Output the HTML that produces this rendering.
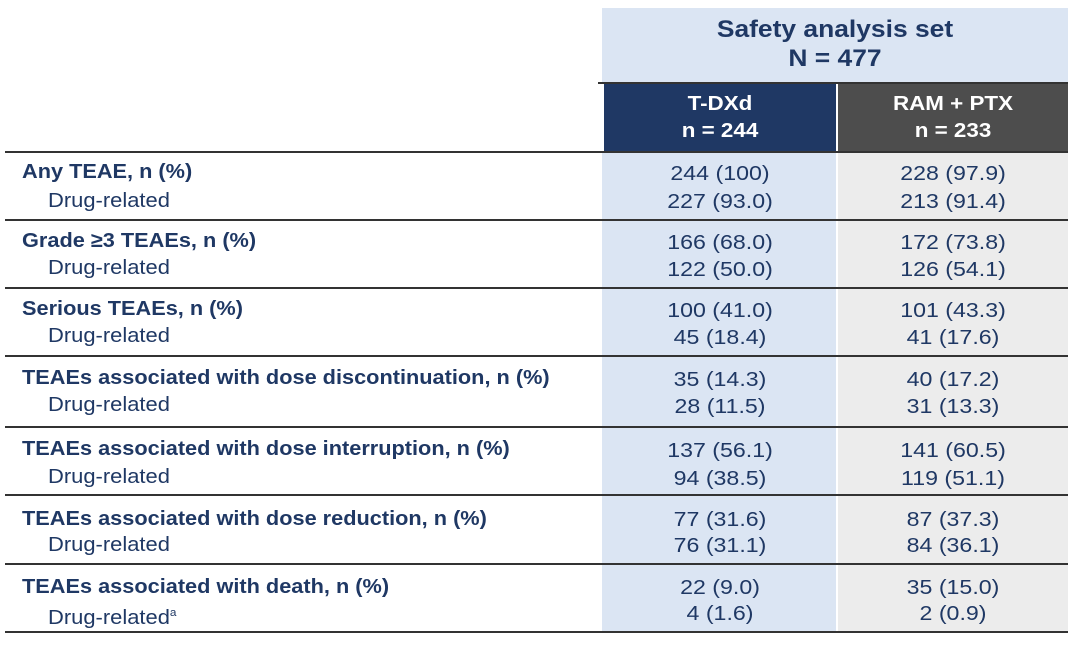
<!DOCTYPE html>
<html><head><meta charset="utf-8"><style>
body{margin:0;width:1080px;height:646px;background:#fff;position:relative;overflow:hidden;font-family:"Liberation Sans",Arial,sans-serif;color:#1f3864}
div{position:absolute}
.hl{height:2px;background:#333;left:5px;width:1063px}
.t{font-size:20.5px;line-height:24px;white-space:nowrap}
.b{font-weight:bold;left:22px;transform:scaleX(1.06);transform-origin:left}
.i{left:48px;transform:scaleX(1.07);transform-origin:left}
.c1{left:604px;width:232px;text-align:center;transform:scaleX(1.13)}
.c2{left:838px;width:230px;text-align:center;transform:scaleX(1.13)}
</style></head><body>
<div style="left:602px;top:8px;width:466px;height:76px;background:#dbe5f3"></div>
<div style="left:602px;top:152px;width:234px;height:481px;background:#dbe5f3"></div>
<div style="left:838px;top:152px;width:230px;height:481px;background:#ececec"></div>
<div style="left:602px;top:15px;width:466px;text-align:center;font-weight:bold;font-size:24px;line-height:29px;transform:scaleX(1.1)">Safety analysis set<br>N = 477</div>
<div style="left:598px;top:82px;width:470px;height:2px;background:#333"></div>
<div style="left:604px;top:84px;width:232px;height:68px;background:#1f3864"></div>
<div style="left:838px;top:84px;width:230px;height:68px;background:#4d4d4d"></div>
<div style="left:604px;top:91px;width:232px;color:#fff;font-weight:bold;font-size:20px;line-height:27px;text-align:center;transform:scaleX(1.12)">T-DXd<br>n = 244</div>
<div style="left:838px;top:91px;width:230px;color:#fff;font-weight:bold;font-size:20px;line-height:27px;text-align:center;transform:scaleX(1.12)">RAM + PTX<br>n = 233</div>
<div class="hl" style="top:151px"></div>
<div class="hl" style="top:219px"></div>
<div class="hl" style="top:287px"></div>
<div class="hl" style="top:355px"></div>
<div class="hl" style="top:426px"></div>
<div class="hl" style="top:494px"></div>
<div class="hl" style="top:563px"></div>
<div class="hl" style="top:631px"></div>

<div class="t b" style="top:160px">Any TEAE, n (%)</div>
<div class="t i" style="top:189px">Drug-related</div>
<div class="t c1" style="top:160px;line-height:28px">244 (100)<br>227 (93.0)</div>
<div class="t c2" style="top:160px;line-height:28px">228 (97.9)<br>213 (91.4)</div>

<div class="t b" style="top:229px">Grade ≥3 TEAEs, n (%)</div>
<div class="t i" style="top:256px">Drug-related</div>
<div class="t c1" style="top:229px;line-height:27px">166 (68.0)<br>122 (50.0)</div>
<div class="t c2" style="top:229px;line-height:27px">172 (73.8)<br>126 (54.1)</div>

<div class="t b" style="top:297px">Serious TEAEs, n (%)</div>
<div class="t i" style="top:324px">Drug-related</div>
<div class="t c1" style="top:297px;line-height:27px">100 (41.0)<br>45 (18.4)</div>
<div class="t c2" style="top:297px;line-height:27px">101 (43.3)<br>41 (17.6)</div>

<div class="t b" style="top:366px">TEAEs associated with dose discontinuation, n (%)</div>
<div class="t i" style="top:393px">Drug-related</div>
<div class="t c1" style="top:366px;line-height:27px">35 (14.3)<br>28 (11.5)</div>
<div class="t c2" style="top:366px;line-height:27px">40 (17.2)<br>31 (13.3)</div>

<div class="t b" style="top:437px">TEAEs associated with dose interruption, n (%)</div>
<div class="t i" style="top:465px">Drug-related</div>
<div class="t c1" style="top:437px;line-height:28px">137 (56.1)<br>94 (38.5)</div>
<div class="t c2" style="top:437px;line-height:28px">141 (60.5)<br>119 (51.1)</div>

<div class="t b" style="top:507px">TEAEs associated with dose reduction, n (%)</div>
<div class="t i" style="top:533px">Drug-related</div>
<div class="t c1" style="top:507px;line-height:26px">77 (31.6)<br>76 (31.1)</div>
<div class="t c2" style="top:507px;line-height:26px">87 (37.3)<br>84 (36.1)</div>

<div class="t b" style="top:575px">TEAEs associated with death, n (%)</div>
<div class="t i" style="top:601px">Drug-related<sup style="font-size:11px">a</sup></div>
<div class="t c1" style="top:575px;line-height:26px">22 (9.0)<br>4 (1.6)</div>
<div class="t c2" style="top:575px;line-height:26px">35 (15.0)<br>2 (0.9)</div>
</body></html>
